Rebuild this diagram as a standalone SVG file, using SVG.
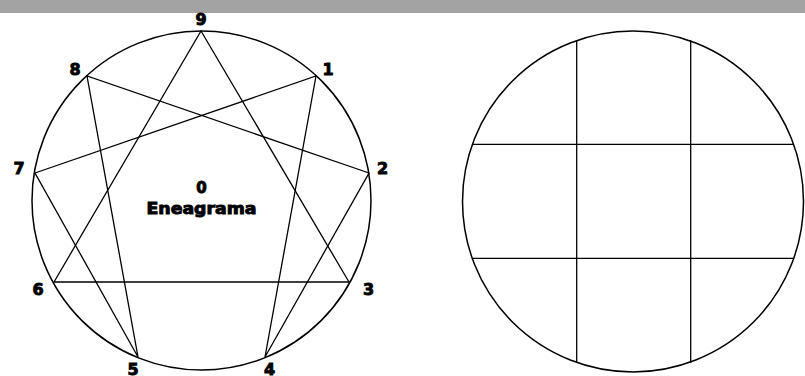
<svg xmlns="http://www.w3.org/2000/svg" width="805" height="376" viewBox="0 0 805 376">
<style>
.ring{fill:none;stroke:#000;stroke-width:1.5}
.ln{fill:none;stroke:#000;stroke-width:1.3;stroke-linecap:round}
.lbl{font-family:"DejaVu Sans",sans-serif;font-weight:bold;font-size:16px;fill:#000;stroke:#000;stroke-width:0.9;text-anchor:middle}
.ctr{font-family:"DejaVu Sans",sans-serif;font-weight:bold;font-size:15px;fill:#000;stroke:#000;stroke-width:0.9;text-anchor:middle}
</style>
<rect x="0" y="0" width="805" height="13" fill="#a3a3a3"/>
<g id="enneagram">
<circle class="ring" cx="201.5" cy="200.5" r="169.5"/>
</g>
<g id="connectors">
<polygon class="ln" points="201,31 349,282 54,282"/>
<polygon class="ln" points="316,76 265,357 369,173 87,76 138,357 35,173"/>
</g>
<g id="labels">
<text class="lbl" x="201" y="25">9</text>
<text class="lbl" x="75" y="75">8</text>
<text class="lbl" x="328" y="75">1</text>
<text class="lbl" x="19" y="174">7</text>
<text class="lbl" x="382.5" y="174">2</text>
<text class="lbl" x="38" y="295">6</text>
<text class="lbl" x="368.5" y="295">3</text>
<text class="lbl" x="133" y="374.5">5</text>
<text class="lbl" x="269.5" y="374.5">4</text>
</g>
<g id="center">
<text class="ctr" x="201.5" y="193">0</text>
<text class="ctr" x="201.5" y="213.5" textLength="110" lengthAdjust="spacingAndGlyphs">Eneagrama</text>
</g>
<g id="grid-circle">
<circle class="ring" cx="633" cy="201.5" r="170.5"/>
<line class="ln" x1="576.7" y1="40.6" x2="576.7" y2="362.4"/>
<line class="ln" x1="690.7" y1="40.6" x2="690.7" y2="362.4"/>
<line class="ln" x1="472.4" y1="144.3" x2="793.6" y2="144.3"/>
<line class="ln" x1="472.4" y1="258.3" x2="793.6" y2="258.3"/>
</g>
</svg>
